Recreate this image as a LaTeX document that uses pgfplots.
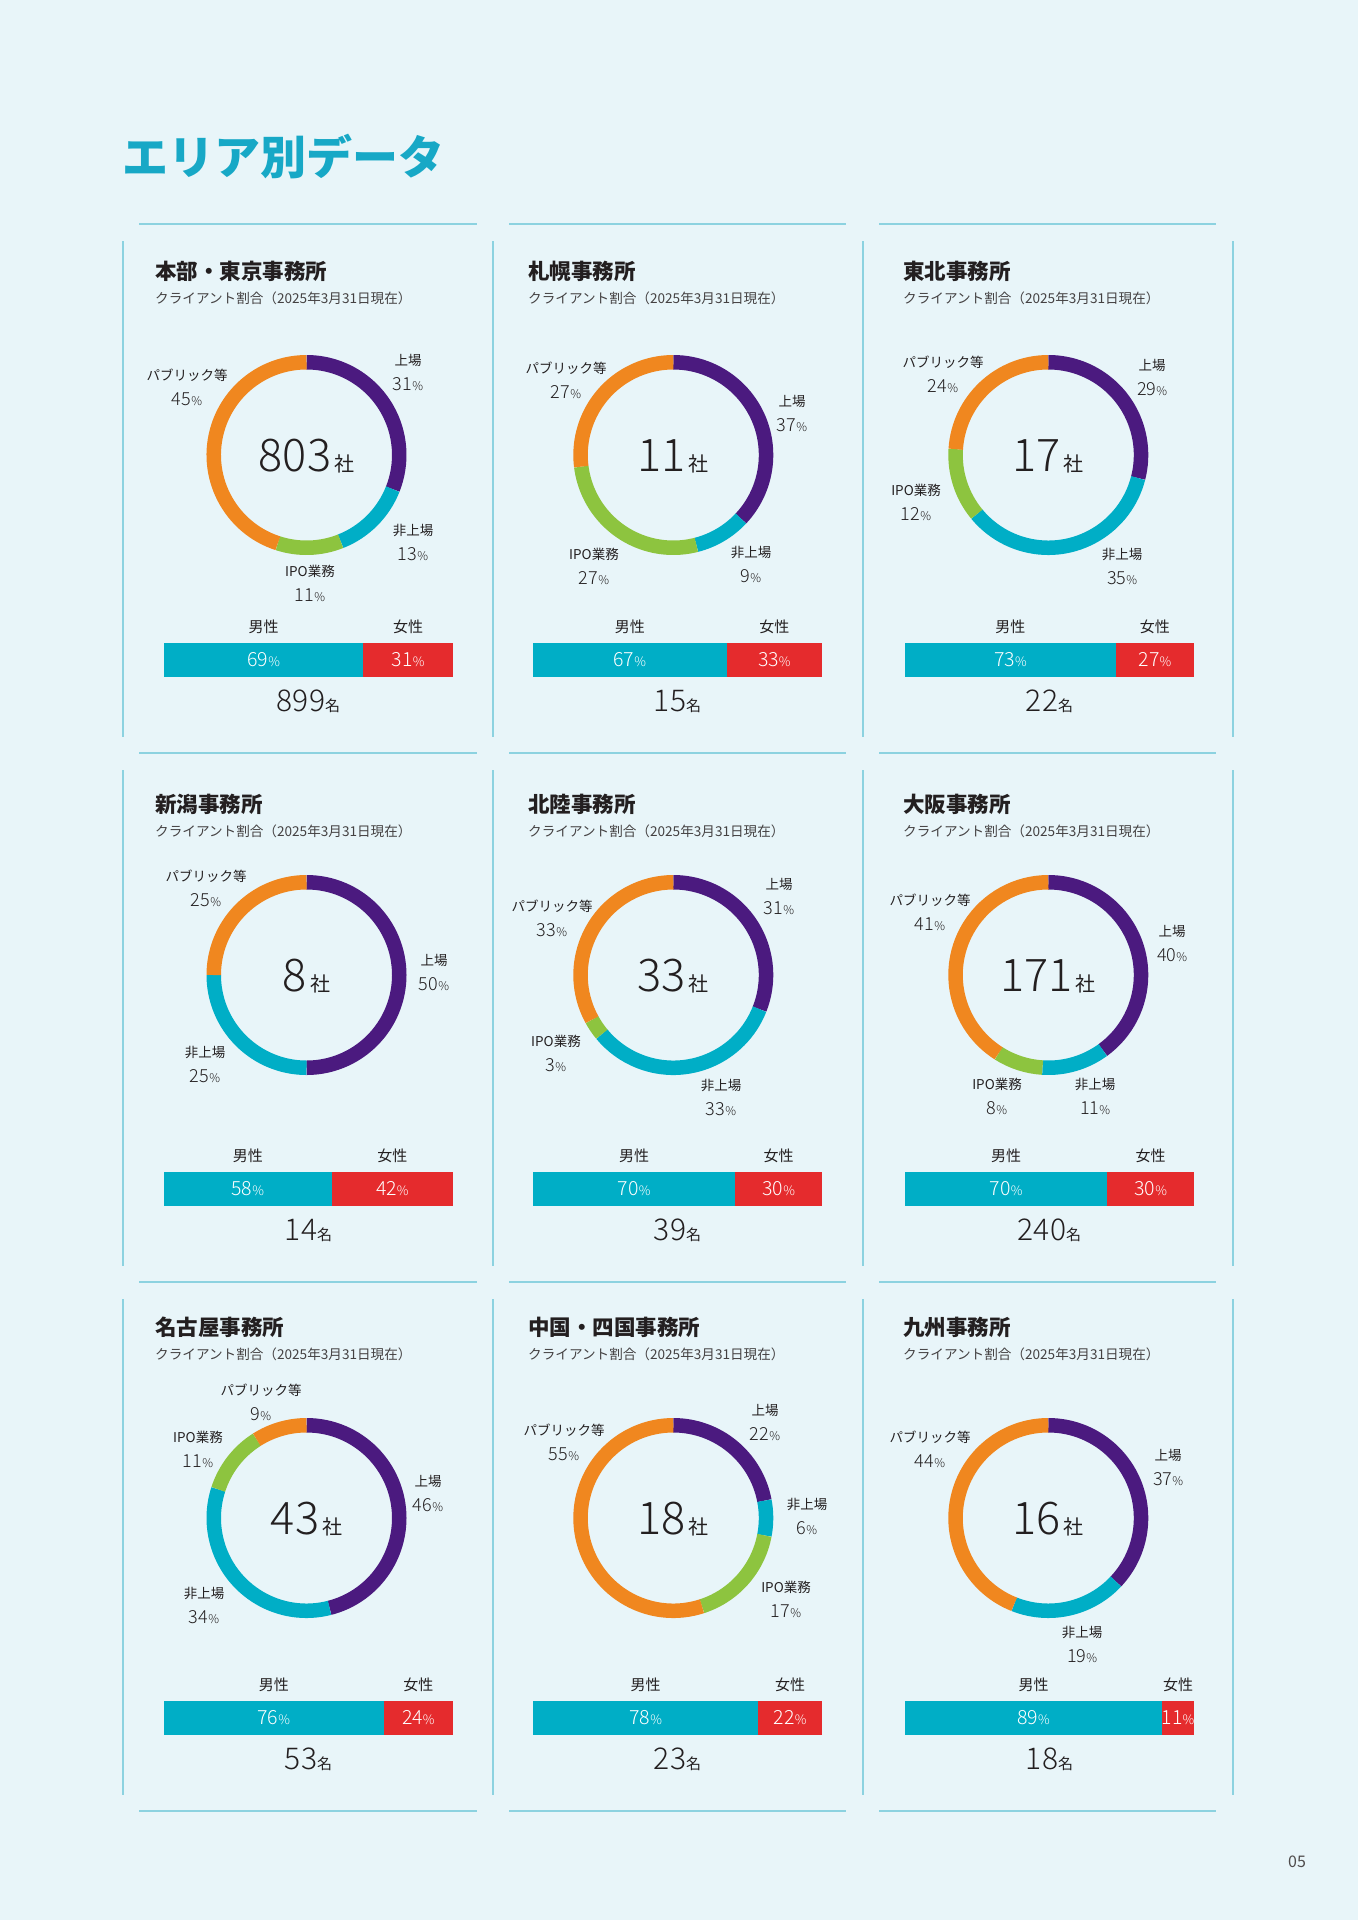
\documentclass[border=0pt]{standalone}
\usepackage{fontspec}
\setmainfont{Noto Sans CJK JP}
\IfFontExistsTF{Noto Sans CJK JP Light}{\newfontfamily\lightf{Noto Sans CJK JP Light}}{\newfontfamily\lightf{Noto Sans CJK JP}}
\usepackage{pgfplots}
\pgfplotsset{compat=1.18}
\definecolor{bgC}{HTML}{E8F5F9}
\definecolor{lnC}{HTML}{8CD2E0}
\definecolor{ttlC}{HTML}{17A8C6}
\definecolor{cPur}{HTML}{4B1A7F}
\definecolor{cCy}{HTML}{00AEC6}
\definecolor{cGr}{HTML}{8DC43F}
\definecolor{cOr}{HTML}{F0871F}
\definecolor{cRd}{HTML}{E52B2D}
\definecolor{txC}{HTML}{231F20}
\tikzset{txt/.style={text=txC, inner sep=0pt}}
\pgfplotsset{barbox/.style={anchor=north west, width=289pt, height=34pt, scale only axis,
  xmin=0, xmax=100, ymin=-0.5, ymax=0.5, hide axis, clip=false}}
% one donut segment: cx cy from% to% colour
\newcommand\seg[5]{%
  \draw[#5, line width=14.5pt, line cap=butt] (axis cs:#1,#2) ++(canvas polar cs:angle={90-3.6*(#3)},radius=92.75pt)
    arc[start angle={90-3.6*(#3)}, end angle={90-3.6*(#4)}, radius=92.75pt];}
% donut: cx cy listed unlisted ipo public
\newcommand\donut[6]{%
  \seg{#1}{#2}{0}{#3}{cPur}%
  \seg{#1}{#2}{#3}{#3+#4}{cCy}%
  \seg{#1}{#2}{#3+#4}{#3+#4+#5}{cGr}%
  \seg{#1}{#2}{#3+#4+#5}{#3+#4+#5+#6}{cOr}}
\newcommand\pc[1]{{\lightf\fontsize{18}{18}\selectfont #1}{\lightf\fontsize{12}{12}\selectfont\%}}
\newcommand\pcw[1]{{\lightf\fontsize{19.5}{20}\selectfont #1}{\lightf\fontsize{13}{13}\selectfont\%}}
\newcommand\lab[4]{%
  \node[txt, yshift=12pt, font=\fontsize{13.5}{14}\selectfont] at (axis cs:#1,#2) {#3};
  \node[txt, yshift=-12pt] at (axis cs:#1,#2) {\pc{#4}};}
\newcommand\cnum[3]{%
  \node[txt, anchor=base, yshift=-16pt] at (axis cs:#1,#2) {{\lightf\fontsize{45}{45}\selectfont #3}\hspace{3pt}{\fontsize{20}{20}\selectfont 社}};}
\newcommand\ptitle[4]{%
  \node[txt, anchor=west, font=\bfseries\fontsize{21.5}{22}\selectfont] at (axis cs:#1,#2) {#4};
  \node[txt, anchor=west, text=txC!85, font=\fontsize{13.6}{14}\selectfont] at (axis cs:#1,#3) {クライアント割合（2025年3月31日現在）};}
% gender bar: x0 ytop male female cM cF count
\newcommand\gbar[7]{%
\begin{axis}[at={(#1pt,1920pt-#2pt)}, barbox, xbar stacked, bar width=34pt]
\addplot[fill=cCy, draw=none] coordinates {(#3,0)};
\addplot[fill=cRd, draw=none] coordinates {(#4,0)};
\end{axis}
\begin{axis}[at={(#1pt,1920pt-#2pt)}, barbox]
\addplot[draw=none, forget plot] coordinates {(0,0) (100,0)};
\node[inner sep=0pt, text=white] at (axis cs:#5,0) {\pcw{#3}};
\node[inner sep=0pt, text=white] at (axis cs:#6,0) {\pcw{#4}};
\node[txt, yshift=16pt, font=\fontsize{15}{15}\selectfont] at (axis cs:#5,0.5) {男性};
\node[txt, yshift=16pt, font=\fontsize{15}{15}\selectfont] at (axis cs:#6,0.5) {女性};
\node[txt, anchor=base, yshift=-34.5pt] at (axis cs:50,-0.5) {{\lightf\fontsize{30}{30}\selectfont #7}{\fontsize{15}{15}\selectfont 名}};
\end{axis}}
\begin{document}
\begin{tikzpicture}
\fill[bgC, use as bounding box] (0,0) rectangle (1358pt,1920pt);
\begin{axis}[at={(0pt,0pt)}, anchor=south west, width=1358pt, height=1920pt, scale only axis,
  xmin=0, xmax=1358, ymin=0, ymax=1920, y dir=reverse, hide axis, clip=false]
% frame lines
\addplot[lnC, line width=1.6pt] coordinates {(139,224) (477,224)};
\addplot[lnC, line width=1.6pt] coordinates {(509,224) (846,224)};
\addplot[lnC, line width=1.6pt] coordinates {(879,224) (1216,224)};
\addplot[lnC, line width=1.6pt] coordinates {(139,753) (477,753)};
\addplot[lnC, line width=1.6pt] coordinates {(509,753) (846,753)};
\addplot[lnC, line width=1.6pt] coordinates {(879,753) (1216,753)};
\addplot[lnC, line width=1.6pt] coordinates {(139,1282) (477,1282)};
\addplot[lnC, line width=1.6pt] coordinates {(509,1282) (846,1282)};
\addplot[lnC, line width=1.6pt] coordinates {(879,1282) (1216,1282)};
\addplot[lnC, line width=1.6pt] coordinates {(139,1811) (477,1811)};
\addplot[lnC, line width=1.6pt] coordinates {(509,1811) (846,1811)};
\addplot[lnC, line width=1.6pt] coordinates {(879,1811) (1216,1811)};
\addplot[lnC, line width=1.6pt] coordinates {(122.7,241) (122.7,737)};
\addplot[lnC, line width=1.6pt] coordinates {(493,241) (493,737)};
\addplot[lnC, line width=1.6pt] coordinates {(863,241) (863,737)};
\addplot[lnC, line width=1.6pt] coordinates {(1233,241) (1233,737)};
\addplot[lnC, line width=1.6pt] coordinates {(122.7,770) (122.7,1266)};
\addplot[lnC, line width=1.6pt] coordinates {(493,770) (493,1266)};
\addplot[lnC, line width=1.6pt] coordinates {(863,770) (863,1266)};
\addplot[lnC, line width=1.6pt] coordinates {(1233,770) (1233,1266)};
\addplot[lnC, line width=1.6pt] coordinates {(122.7,1299) (122.7,1795)};
\addplot[lnC, line width=1.6pt] coordinates {(493,1299) (493,1795)};
\addplot[lnC, line width=1.6pt] coordinates {(863,1299) (863,1795)};
\addplot[lnC, line width=1.6pt] coordinates {(1233,1299) (1233,1795)};
% page title
\node[txt, anchor=west, text=ttlC, font=\bfseries\fontsize{46}{46}\selectfont] at (axis cs:122,157) {エリア別データ};
\node[txt, text=txC!80, font=\fontsize{16}{16}\selectfont] at (axis cs:1297,1862) {05};
% panel titles
\ptitle{155}{271}{298}{本部・東京事務所}
\ptitle{528}{271}{298}{札幌事務所}
\ptitle{903}{271}{298}{東北事務所}
\ptitle{155}{804}{831}{新潟事務所}
\ptitle{528}{804}{831}{北陸事務所}
\ptitle{903}{804}{831}{大阪事務所}
\ptitle{155}{1327}{1354}{名古屋事務所}
\ptitle{528}{1327}{1354}{中国・四国事務所}
\ptitle{903}{1327}{1354}{九州事務所}
% donuts: listed, unlisted, IPO, public
\donut{306.5}{455}{31}{13}{11}{45}
\donut{673.3}{455}{37}{9}{27}{27}
\donut{1048.3}{455}{29}{35}{12}{24}
\donut{306.5}{975}{50}{25}{0}{25}
\donut{673.3}{975}{31}{33}{3}{33}
\donut{1048.3}{975}{40}{11}{8}{41}
\donut{306.5}{1518}{46}{34}{11}{9}
\donut{673.3}{1518}{22}{6}{17}{55}
\donut{1048.3}{1518}{37}{19}{0}{44}
% centre numbers
\cnum{306.5}{455}{803}
\cnum{673.3}{455}{11}
\cnum{1048.3}{455}{17}
\cnum{306.5}{975}{8}
\cnum{673.3}{975}{33}
\cnum{1048.3}{975}{171}
\cnum{306.5}{1518}{43}
\cnum{673.3}{1518}{18}
\cnum{1048.3}{1518}{16}
% segment labels
\lab{408}{372}{上場}{31}
\lab{187}{387}{パブリック等}{45}
\lab{413}{542}{非上場}{13}
\lab{310}{583}{IPO業務}{11}
\lab{566}{380}{パブリック等}{27}
\lab{792}{413}{上場}{37}
\lab{594}{566}{IPO業務}{27}
\lab{751}{564}{非上場}{9}
\lab{943}{374}{パブリック等}{24}
\lab{1152}{377}{上場}{29}
\lab{916}{502}{IPO業務}{12}
\lab{1122}{566}{非上場}{35}
\lab{206}{888}{パブリック等}{25}
\lab{434}{972}{上場}{50}
\lab{205}{1064}{非上場}{25}
\lab{779}{896}{上場}{31}
\lab{552}{918}{パブリック等}{33}
\lab{556}{1053}{IPO業務}{3}
\lab{721}{1097}{非上場}{33}
\lab{930}{912}{パブリック等}{41}
\lab{1172}{943}{上場}{40}
\lab{997}{1096}{IPO業務}{8}
\lab{1095}{1096}{非上場}{11}
\lab{261}{1402}{パブリック等}{9}
\lab{198}{1449}{IPO業務}{11}
\lab{428}{1493}{上場}{46}
\lab{204}{1605}{非上場}{34}
\lab{765}{1422}{上場}{22}
\lab{564}{1442}{パブリック等}{55}
\lab{807}{1516}{非上場}{6}
\lab{786}{1599}{IPO業務}{17}
\lab{930}{1449}{パブリック等}{44}
\lab{1168}{1467}{上場}{37}
\lab{1082}{1644}{非上場}{19}
\end{axis}
\gbar{164}{643}{69}{31}{34.5}{84.5}{899}
\gbar{533}{643}{67}{33}{33.5}{83.5}{15}
\gbar{905}{643}{73}{27}{36.5}{86.5}{22}
\gbar{164}{1172}{58}{42}{29}{79}{14}
\gbar{533}{1172}{70}{30}{35}{85}{39}
\gbar{905}{1172}{70}{30}{35}{85}{240}
\gbar{164}{1701}{76}{24}{38}{88}{53}
\gbar{533}{1701}{78}{22}{39}{89}{23}
\gbar{905}{1701}{89}{11}{44.5}{94.5}{18}
\end{tikzpicture}
\end{document}
